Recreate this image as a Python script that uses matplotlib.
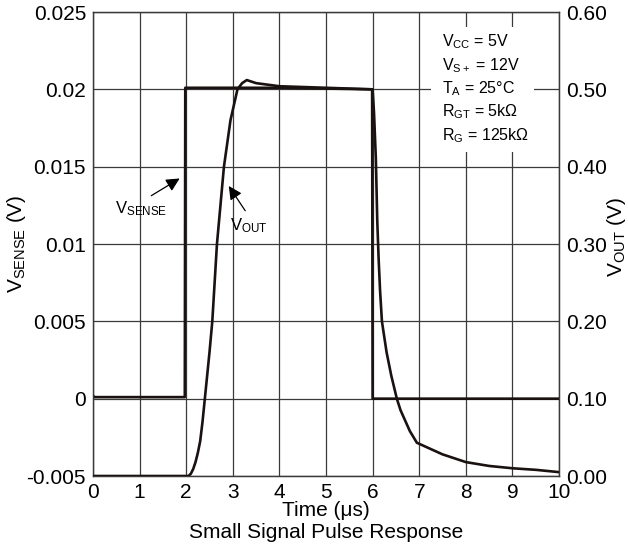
import matplotlib
matplotlib.use("Agg")
import matplotlib.pyplot as plt
from matplotlib.patches import Rectangle

plt.rcParams['font.family'] = ['Liberation Sans', 'DejaVu Sans']
plt.rcParams['mathtext.fontset'] = 'custom'
plt.rcParams['mathtext.rm'] = 'Liberation Sans'
plt.rcParams['mathtext.it'] = 'Liberation Sans:italic'
plt.rcParams['mathtext.bf'] = 'Liberation Sans:bold'

# ---- data ----
t_sense = [0.0, 0.03, 1.97, 1.98, 4.0, 5.99, 6.0, 10.0]
v_sense = [0.0002, 0.0001, 0.0001, 0.0201, 0.0201, 0.0200, 0.0000, 0.0000]

t_out = [0.0, 2.0, 2.05, 2.1, 2.15, 2.2, 2.25, 2.3, 2.35, 2.4, 2.5, 2.56, 2.62, 2.66, 2.75, 2.81,
         2.95, 3.1, 3.2, 3.3, 3.5, 4.0, 5.0, 6.0, 6.03, 6.07, 6.1, 6.13, 6.16,
         6.2, 6.3, 6.4, 6.52, 6.6, 6.8, 6.95, 7.5, 8.0, 8.5, 9.0, 9.5, 10.0]
v_out = [0.0, 0.0, 0.0, 0.003, 0.009, 0.018, 0.03, 0.045, 0.07, 0.10, 0.16, 0.20, 0.26, 0.30, 0.36, 0.40,
         0.46, 0.50, 0.508, 0.512, 0.508, 0.504, 0.502, 0.500, 0.47, 0.41, 0.33, 0.28, 0.24,
         0.20, 0.16, 0.13, 0.10, 0.085, 0.058, 0.043, 0.028, 0.018, 0.013, 0.010, 0.008, 0.005]

x_ticks = list(range(0, 11))
left_ticks = [-0.005, 0, 0.005, 0.01, 0.015, 0.02, 0.025]
left_labels = ['-0.005', '0', '0.005', '0.01', '0.015', '0.02', '0.025']
right_ticks = [0.0, 0.1, 0.2, 0.3, 0.4, 0.5, 0.6]
right_labels = ['0.00', '0.10', '0.20', '0.30', '0.40', '0.50', '0.60']
cond_lines = [r'V$_{\mathrm{CC}}$ = 5V', r'V$_{\mathrm{S+}}$ = 12V', r'T$_{\mathrm{A}}$ = 25°C',
              r'R$_{\mathrm{GT}}$ = 5kΩ', r'R$_{\mathrm{G}}$ = 125kΩ']

fig = plt.figure(figsize=(6.28, 5.46), dpi=100)
ax = fig.add_axes([93/628, 1-476/546, 466/628, 464/546])
ax2 = ax.twinx()

gc = '#3a3a3a'
ax.set_xlim(0, 10)
ax.set_ylim(-0.005, 0.025)
ax2.set_ylim(0, 0.6)
ax.set_xticks(x_ticks)
ax.set_yticks(left_ticks)
ax.set_yticklabels(left_labels)
ax2.set_yticks(right_ticks)
ax2.set_yticklabels(right_labels)
ax.grid(True, color=gc, lw=0.9)
ax.set_axisbelow(True)
for a in (ax, ax2):
    a.tick_params(length=0, labelsize=15, colors='black')
    for s in a.spines.values():
        s.set_color(gc)
        s.set_linewidth(0.9)
ax.tick_params(axis='y', pad=5)
ax.tick_params(axis='x', pad=5)
ax2.tick_params(axis='y', pad=5)

ax.add_patch(Rectangle((0.725, 0.698), 0.221, 0.27, transform=ax.transAxes,
                       facecolor='white', edgecolor='none', zorder=1.5))

ax.plot(t_sense, v_sense, color='#1a1111', lw=1.9, zorder=3)
ax2.plot(t_out, v_out, color='#1a1111', lw=1.9, zorder=3)

for i, s in enumerate(cond_lines):
    ax.text(0.749, 0.925 - i*0.0502, s, transform=ax.transAxes, fontsize=11.5,
            va='baseline', ha='left', zorder=4)

ax.annotate('', xy=(1.91, 0.01433), xytext=(1.2, 0.01303),
            arrowprops=dict(arrowstyle='-|>', color='black', lw=0.9, mutation_scale=20))
ax.text(0.47, 0.0120, r'V$_{\mathrm{SENSE}}$', fontsize=12, ha='left', va='baseline')
ax.annotate('', xy=(2.88, 0.0139), xytext=(3.3, 0.0120),
            arrowprops=dict(arrowstyle='-|>', color='black', lw=0.9, mutation_scale=20))
ax.text(2.94, 0.0109, r'V$_{\mathrm{OUT}}$', fontsize=12, ha='left', va='baseline')

ax.set_xlabel('Time (μs)', fontsize=15, labelpad=-1)
fig.text(326/628, 1-533/546, 'Small Signal Pulse Response', fontsize=15, ha='center', va='center')
ax.set_ylabel(r'V$_{\mathrm{SENSE}}$ (V)', fontsize=15)
ax.yaxis.set_label_coords(-65/466, 0.5)
ax2.set_ylabel(r'V$_{\mathrm{OUT}}$ (V)', fontsize=15, rotation=90)
ax2.yaxis.set_label_coords(1 + 46/466, 0.515)

fig.savefig('out.png', dpi=100)
